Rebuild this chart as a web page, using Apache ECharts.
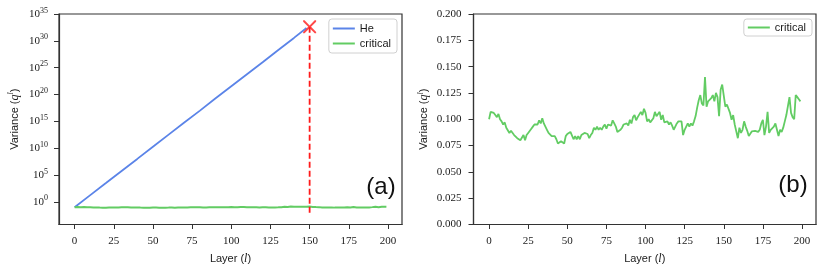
<!DOCTYPE html>
<html>
<head>
<meta charset="utf-8">
<script src="https://cdn.jsdelivr.net/npm/echarts@6/dist/echarts.min.js"></script>
<style>
html,body{margin:0;padding:0;background:#fff;}
#chart{width:830px;height:272px;}
</style>
</head>
<body>
<div id="chart"></div>
<script>
// ---- data ----
var criticalValues = [
0.100,0.107,0.108,0.106,0.104,0.102,0.105,0.100,0.098,0.095,
0.097,0.092,0.092,0.087,0.089,0.088,0.085,0.084,0.082,0.081,
0.080,0.081,0.085,0.080,0.085,0.087,0.088,0.091,0.093,0.095,
0.096,0.095,0.099,0.096,0.101,0.096,0.093,0.090,0.087,0.086,
0.084,0.085,0.084,0.081,0.077,0.076,0.079,0.079,0.077,0.084,
0.086,0.087,0.088,0.087,0.081,0.084,0.081,0.084,0.081,0.085,
0.084,0.087,0.088,0.086,0.082,0.085,0.087,0.092,0.090,0.093,
0.090,0.092,0.090,0.093,0.095,0.091,0.095,0.096,0.094,0.099,
0.096,0.093,0.088,0.087,0.090,0.092,0.095,0.095,0.096,0.094,
0.0995,0.096,0.102,0.104,0.099,0.102,0.101,0.107,0.104,0.110,
0.106,0.098,0.100,0.097,0.096,0.101,0.107,0.103,0.105,0.107,
0.0995,0.104,0.097,0.096,0.098,0.095,0.097,0.094,0.090,0.093,
0.096,0.098,0.098,0.098,0.085,0.090,0.093,0.096,0.093,0.096,
0.094,0.098,0.103,0.111,0.118,0.123,0.115,0.113,0.140,0.112,
0.117,0.116,0.120,0.123,0.117,0.125,0.121,0.103,0.128,0.133,
0.133,0.112,0.114,0.114,0.106,0.0995,0.104,0.095,0.0885,0.082,
0.092,0.087,0.090,0.098,0.093,0.089,0.084,0.085,0.0885,0.088,
0.089,0.090,0.088,0.090,0.096,0.0995,0.085,0.093,0.107,0.087,
0.090,0.091,0.093,0.096,0.090,0.084,0.090,0.088,0.092,0.098,
0.104,0.103,0.121,0.106,0.102,0.100,0.123,0.121,0.119,0.117
];
var heLayers = [0,10,20,30,40,50,60,70,80,90,100,110,120,130,140,148];
var heValues = [0.1,18,3.2e3,5.8e5,1.0e8,1.9e10,3.4e12,6.0e14,1.0e17,2.0e19,3.4e21,6.0e23,1.0e26,2.0e28,3.5e30,2.5e32];
var crossPoint = [150, 4e32];
var cutLayer = 150;
var cutBottom = 3e-3;
var xTicks = [0,25,50,75,100,125,150,175,200];

// ---- build ----
var critPairs = criticalValues.map(function(v,i){return [i,v];});
var hePairs = heLayers.map(function(l,i){return [l, heValues[i]];});

var serif = 'Liberation Serif';
var sans = 'Liberation Sans';
var axisCol = '#333';
var txtCol = '#1a1a1a';

function xAxisCfg(gi){
  return {
    type:'value', gridIndex:gi, min:-9.95, max:208.95,
    axisLine:{show:true, onZero:false, lineStyle:{color:axisCol, width:1.2}},
    axisTick:{show:true, length:4.5, customValues:xTicks, lineStyle:{color:axisCol, width:1}},
    axisLabel:{customValues:xTicks, fontFamily:serif, fontSize:11, color:txtCol, margin:11},
    splitLine:{show:false},
    name:'Layer ({i|l})', nameLocation:'middle', nameGap:28,
    nameTextStyle:{fontFamily:sans, fontSize:11, color:txtCol,
      rich:{i:{fontFamily:serif, fontStyle:'italic', fontSize:12, color:txtCol}}}
  };
}
var yName = 'Variance ({i|q}{s|l})';
var yNameStyle = {fontFamily:sans, fontSize:11, color:txtCol,
  rich:{i:{fontFamily:serif, fontStyle:'italic', fontSize:12, color:txtCol},
        s:{fontFamily:serif, fontStyle:'italic', fontSize:8, color:txtCol, padding:[0,0,7,0]}}};

var option = {
  animation:false,
  backgroundColor:'#fff',
  grid:[
    {left:59, top:14, width:343, height:210.5, show:true, borderColor:axisCol, borderWidth:1.2, containLabel:false},
    {left:473.5, top:14, width:342.5, height:210.5, show:true, borderColor:axisCol, borderWidth:1.2, containLabel:false}
  ],
  xAxis:[xAxisCfg(0), xAxisCfg(1)],
  yAxis:[
    {
      type:'log', gridIndex:0, logBase:1e5, min:Math.pow(10,-4.22), max:1e35,
      axisLine:{show:true, onZero:false, lineStyle:{color:axisCol, width:1.2}},
      axisTick:{show:true, length:5, lineStyle:{color:axisCol}},
      splitLine:{show:false},
      axisLabel:{
        fontFamily:serif, fontSize:11, color:txtCol, margin:11, showMinLabel:false,
        formatter:function(v){
          var e = Math.log10(v);
          var r = Math.round(e);
          if (Math.abs(e-r) > 0.01 || r % 5 !== 0) return '';
          return '{b|10}{s|' + r + '}';
        },
        rich:{b:{fontFamily:serif, fontSize:11, color:txtCol},
              s:{fontFamily:serif, fontSize:8, color:txtCol, padding:[0,0,7,0]}}
      },
      name:yName, nameLocation:'middle', nameGap:37, nameTextStyle:yNameStyle
    },
    {
      type:'value', gridIndex:1, min:0, max:0.2, interval:0.025,
      axisLine:{show:true, onZero:false, lineStyle:{color:axisCol, width:1.2}},
      axisTick:{show:true, length:5, lineStyle:{color:axisCol}},
      splitLine:{show:false},
      axisLabel:{fontFamily:serif, fontSize:11, color:txtCol, margin:12,
        formatter:function(v){return v.toFixed(3);}},
      name:yName, nameLocation:'middle', nameGap:42, nameTextStyle:yNameStyle
    }
  ],
  legend:[
    {
      data:['He','critical'], orient:'vertical', right:433, top:19,
      icon:'rect', itemWidth:22, itemHeight:2, itemGap:4,
      textStyle:{fontFamily:sans, fontSize:11, color:txtCol},
      borderColor:'#d0d0d0', borderWidth:1, borderRadius:3,
      padding:[4,6,4,4], backgroundColor:'rgba(255,255,255,0.85)'
    },
    {
      data:['critical'], orient:'vertical', right:18, top:19,
      icon:'rect', itemWidth:22, itemHeight:2, itemGap:4,
      textStyle:{fontFamily:sans, fontSize:11, color:txtCol},
      borderColor:'#d0d0d0', borderWidth:1, borderRadius:3,
      padding:[3,6,3,4], backgroundColor:'rgba(255,255,255,0.85)'
    }
  ],
  graphic:[
    {type:'text', x:381, y:187, style:{text:'(a)', fontFamily:sans, fontSize:24, fill:'#111', align:'center', verticalAlign:'middle'}},
    {type:'text', x:793, y:185, style:{text:'(b)', fontFamily:sans, fontSize:24, fill:'#111', align:'center', verticalAlign:'middle'}}
  ],
  series:[
    {name:'He', type:'line', xAxisIndex:0, yAxisIndex:0, data:hePairs, showSymbol:false,
     lineStyle:{color:'#5b84e8', width:1.8}, itemStyle:{color:'#5b84e8'}, z:2},
    {name:'critical', type:'line', xAxisIndex:0, yAxisIndex:0, data:critPairs, showSymbol:false,
     lineStyle:{color:'#62cc63', width:2}, itemStyle:{color:'#62cc63'}, z:2},
    {name:'cut', type:'line', xAxisIndex:0, yAxisIndex:0, data:[[cutLayer, crossPoint[1]],[cutLayer, cutBottom]], showSymbol:false,
     lineStyle:{color:'#ff1a1a', width:1.8, type:[6,3]}, z:3},
    {name:'overflow', type:'scatter', xAxisIndex:0, yAxisIndex:0, data:[crossPoint],
     symbol:'path://M0,0 L2.2,0 L10,7.8 L17.8,0 L20,0 L20,2.2 L12.2,10 L20,17.8 L20,20 L17.8,20 L10,12.2 L2.2,20 L0,20 L0,17.8 L7.8,10 L0,2.2 Z',
     symbolSize:13, itemStyle:{color:'#ff1a1a'}, z:4},
    {name:'critical', type:'line', xAxisIndex:1, yAxisIndex:1, data:critPairs, showSymbol:false,
     lineStyle:{color:'#62cc63', width:1.8}, itemStyle:{color:'#62cc63'}, z:2}
  ]
};
var chart = echarts.init(document.getElementById('chart'), null, {renderer:'canvas'});
chart.setOption(option);
</script>
</body>
</html>
